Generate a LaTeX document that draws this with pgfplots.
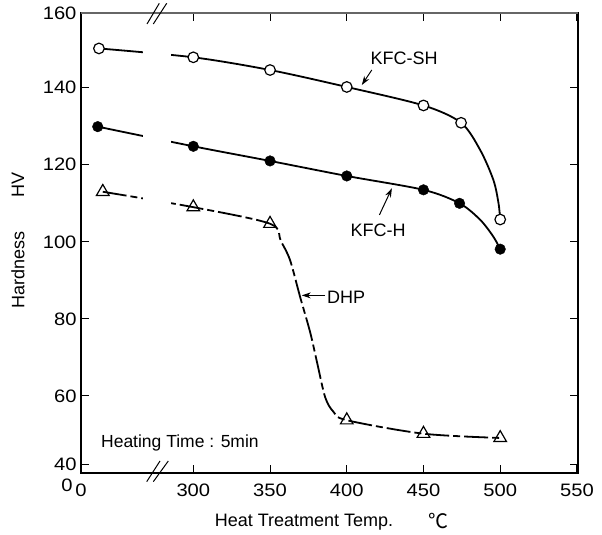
\documentclass[border=0pt]{standalone}
\usepackage{fontspec}
\setmainfont{Liberation Sans}
\newfontfamily\tickfont[FakeStretch=1.12]{Liberation Sans}
\newfontfamily\cjk{Noto Sans CJK JP}
\usepackage{pgfplots}
\pgfplotsset{compat=1.18}
\usetikzlibrary{arrows.meta}

\begin{document}
\begin{tikzpicture}
\path[use as bounding box] (-81pt,-62pt) rectangle (521pt,473pt);
\begin{axis}[
    at={(0pt,0pt)}, anchor=south west,
    scale only axis, width=497pt, height=460pt,
    xmin=226.8, xmax=550.7,
    ymin=40, ymax=159.4,
    % x break: the first point is room temperature, drawn left of 300
    xtick={226.8,300,350,400,450,500,550},
    xticklabels={0,300,350,400,450,500,550},
    ytick={42.3,60,80,100,120,140,159.4},
    yticklabels={40,60,80,100,120,140,160},
    tick align=inside, tick pos=both,
    major tick length=8pt,
    axis line style={line width=1.3pt},
    tick style={line width=1pt, black},
    ticklabel style={font=\tickfont\fontsize{18}{18}\selectfont},
    xticklabel style={yshift=-7pt},
    yticklabel style={xshift=-1pt},
    /pgf/number format/assume math mode=true,
    clip=false,
]

% KFC-SH
\addplot[line width=1.8pt, smooth] table {
x y
238.5 150.2
300 147.9
350 144.6
400 140.2
450 135.4
474.5 130.9
487.0 123.8
495.6 116.0
498.9 110.0
500 105.8
};
% KFC-H
\addplot[line width=1.8pt, smooth] table {
x y
237.7 129.9
300 124.8
350 121.0
400 117.1
450 113.5
473.5 110.0
487.0 105.7
495.6 101.3
500 98.1
};
% DHP (curve)
\addplot[line width=1.8pt, smooth, dash pattern=on 24pt off 4pt on 7pt off 4pt] table {
x y
241 113.0
300 109.0
350 104.7
357 100.2
363 95.3
369.6 85.7
376.1 76.6
380.7 68.6
385.9 59.7
391.3 55.9
400 53.7
450 50.2
500 49.1
};

% break in the lines
\fill[white] (axis cs:267.3,106) rectangle (axis cs:285.5,156);

\addplot[only marks, mark=*, mark size=5.3pt, mark options={fill=white, draw=black, line width=1.2pt}] table {
x y
238.5 150.2
300 147.9
350 144.6
400 140.2
450 135.4
474.5 130.9
500 105.8
};
\addplot[only marks, mark=*, mark size=5.3pt, mark options={fill=black, draw=black}] table {
x y
237.7 129.9
300 124.8
350 121.0
400 117.1
450 113.5
473.5 110.0
500 98.1
};
\addplot[only marks, mark=triangle, mark size=7.3pt, mark options={solid, draw=black, line width=1.2pt}] table {
x y
241 113.0
300 109.0
350 104.7
400 53.7
450 50.2
500 49.1
};

\node[font=\fontsize{18}{18}\selectfont] at (axis cs:437.4,147.7) {KFC-SH};
\draw[line width=1pt, -{Stealth[length=9pt,width=6pt]}] (axis cs:416.3,144.6) -- (axis cs:409.8,140.7);
\node[font=\fontsize{18}{18}\selectfont] at (axis cs:420.4,103.1) {KFC-H};
\draw[line width=1pt, -{Stealth[length=9pt,width=6pt]}] (axis cs:421.3,107.0) -- (axis cs:429.4,113.9);
\node[font=\fontsize{18}{18}\selectfont, anchor=west, inner sep=0pt] at (axis cs:387.0,85.5) {DHP};
\draw[line width=1pt, -{Stealth[length=9pt,width=6pt]}] (axis cs:385.9,86.1) -- (axis cs:370.7,86.1);
\node[font=\fontsize{17.5}{17.5}\selectfont, anchor=west, inner sep=0pt] at (axis cs:239.8,47.8) {Heating Time : 5min};
\end{axis}

% top edge is drawn grey in the original
\draw[line width=1.3pt, black!60] (0pt,460pt) -- (497pt,460pt);

% axis break marks
\draw[line width=1pt] (66pt,449pt) -- (78.3pt,469.7pt) (72.3pt,449pt) -- (85.7pt,469.7pt);
\draw[line width=1pt] (65.7pt,-8.7pt) -- (79pt,12pt) (72.3pt,-8.7pt) -- (87.3pt,12pt);

% axis titles
\node[rotate=90, font=\fontsize{18}{18}\selectfont] at (-63pt,288pt) {HV};
\node[rotate=90, font=\fontsize{18}{18}\selectfont] at (-63pt,203pt) {Hardness};
\node[font=\fontsize{18}{18}\selectfont] at (223pt,-49pt) {Heat Treatment Temp.};
\node[font=\fontsize{20}{20}\selectfont\cjk] at (357pt,-48pt) {℃};
\node[font=\tickfont\fontsize{18}{18}\selectfont] at (-14pt,-12pt) {0};
\end{tikzpicture}
\end{document}
